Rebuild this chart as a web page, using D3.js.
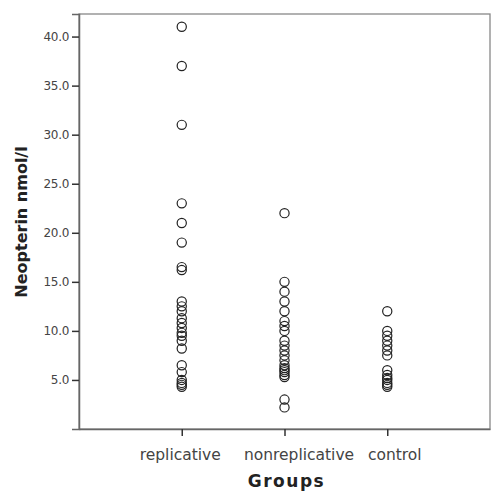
<!DOCTYPE html>
<html>
<head>
<meta charset="utf-8">
<script src="https://cdn.jsdelivr.net/npm/d3@7"></script>
<style>
  body { margin: 0; background: #fff; }
  svg { font-family: "DejaVu Sans", Verdana, sans-serif; }
</style>
</head>
<body>
<svg id="chart" width="492" height="493"></svg>
<script>
// groups and neopterin values (nmol/l)
const groups = ["replicative", "nonreplicative", "control"];
const replicative = [41, 37, 31, 23, 21, 19, 16.5, 16.2, 13, 12.5, 12, 11.3, 10.8, 10.3, 9.8, 9.5, 9, 8.2, 6.5, 5.8, 5, 4.7, 4.5, 4.3];
const nonreplicative = [22, 15, 14, 13, 12, 11, 10.5, 10, 9, 8.5, 8, 7.5, 7, 6.5, 6.2, 6, 5.8, 5.5, 5.3, 3, 2.2];
const control = [12, 10, 9.5, 9, 8.5, 8, 7.5, 6, 5.5, 5.2, 5, 4.7, 4.5, 4.3];
const yTicks = [5, 10, 15, 20, 25, 30, 35, 40];

const values = { replicative, nonreplicative, control };
const points = groups.flatMap(g => values[g].map(v => ({ group: g, value: v })));

const svg = d3.select("#chart");
const margin = { left: 79, top: 14, right: 2, bottom: 64 };
const W = 492, H = 493;

const x = d3.scalePoint().domain(groups).range([margin.left, W - margin.right]).padding(1);
const y = d3.scaleLinear().domain([0, 42.3]).range([H - margin.bottom, margin.top]);

// frame
svg.append("rect")
  .attr("x", margin.left).attr("y", margin.top)
  .attr("width", W - margin.right - margin.left)
  .attr("height", H - margin.bottom - margin.top)
  .attr("fill", "none").attr("stroke", "#888").attr("stroke-width", 1.3);

// y axis
const yAxis = svg.append("g")
  .attr("transform", `translate(${margin.left},0)`)
  .call(d3.axisLeft(y).tickValues(yTicks).tickFormat(d3.format(".1f")).tickSize(7).tickPadding(3));
yAxis.select(".domain").attr("stroke", "#666").attr("stroke-width", 1.5);
yAxis.selectAll(".tick line").attr("stroke", "#333").attr("stroke-width", 1.5);
yAxis.selectAll(".tick text").attr("fill", "#444").style("font-size", "12px")
  .style("font-family", "DejaVu Sans").attr("letter-spacing", "-0.3");

// x axis (SPSS nudges the two right-hand labels a bit to the right)
const labelShift = { replicative: -2, nonreplicative: 14, control: 7 };
const xAxis = svg.append("g")
  .attr("transform", `translate(0,${H - margin.bottom})`)
  .call(d3.axisBottom(x).tickSize(7).tickPadding(13).tickSizeOuter(0));
xAxis.select(".domain").attr("stroke", "#666").attr("stroke-width", 1.5);
xAxis.selectAll(".tick line").attr("stroke", "#333").attr("stroke-width", 1.5);
xAxis.selectAll(".tick text").attr("fill", "#444").style("font-size", "15.5px")
  .style("font-family", "DejaVu Sans")
  .attr("dx", d => labelShift[d]);

// points
svg.append("g").selectAll("circle")
  .data(points)
  .join("circle")
    .attr("cx", d => x(d.group))
    .attr("cy", d => y(d.value))
    .attr("r", 4.6)
    .attr("fill", "none")
    .attr("stroke", "#222")
    .attr("stroke-width", 1.2);

// axis titles
svg.append("text")
  .attr("x", x("nonreplicative") + 2).attr("y", 487)
  .attr("text-anchor", "middle")
  .attr("font-weight", "bold").attr("font-size", 17).attr("fill", "#222")
  .attr("letter-spacing", 1.5)
  .text("Groups");

svg.append("text")
  .attr("transform", `translate(27,222) rotate(-90)`)
  .attr("text-anchor", "middle")
  .attr("font-weight", "bold").attr("font-size", 16).attr("fill", "#222")
  .text("Neopterin nmol/l");
</script>
</body>
</html>
